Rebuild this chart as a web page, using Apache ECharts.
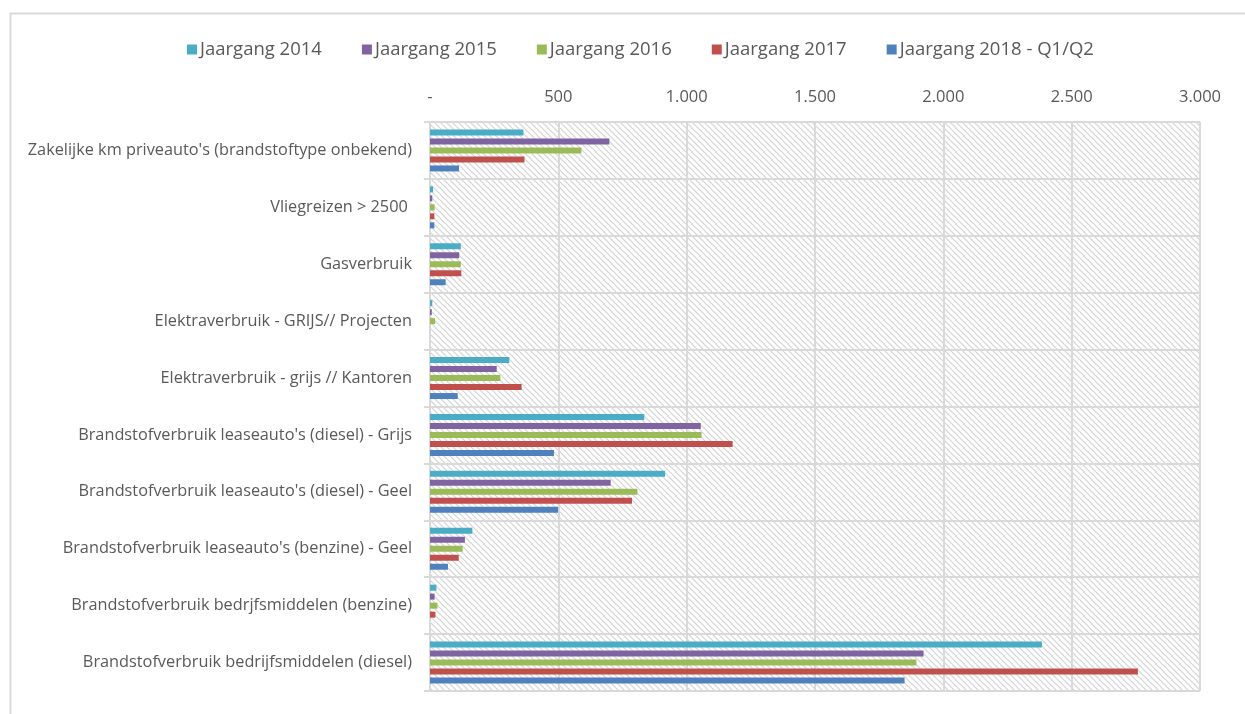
<!DOCTYPE html>
<html><head><meta charset="utf-8">
<script src="https://cdn.jsdelivr.net/npm/echarts@6/dist/echarts.min.js"></script>
<style>html,body{margin:0;padding:0;background:#fff}#c{width:1245px;height:714px}</style>
</head><body><div id="c"></div>
<script>
const categories = [
  "Zakelijke km priveauto's (brandstoftype onbekend)",
  "Vliegreizen > 2500 ",
  "Gasverbruik",
  "Elektraverbruik - GRIJS// Projecten",
  "Elektraverbruik - grijs // Kantoren",
  "Brandstofverbruik leaseauto's (diesel) - Grijs",
  "Brandstofverbruik leaseauto's (diesel) - Geel",
  "Brandstofverbruik leaseauto's (benzine) - Geel",
  "Brandstofverbruik bedrjfsmiddelen (benzine)",
  "Brandstofverbruik bedrijfsmiddelen (diesel)"
];
const seriesNames = ["Jaargang 2014","Jaargang 2015","Jaargang 2016","Jaargang 2017","Jaargang 2018 - Q1/Q2"];
const y2014 = [364, 12, 120, 9, 309, 835, 916, 165, 25, 2384];
const y2015 = [699, 9, 114, 7, 260, 1055, 704, 136, 18, 1923];
const y2016 = [590, 18, 120, 20, 274, 1058, 808, 127, 29, 1895];
const y2017 = [368, 17, 122, 0, 357, 1179, 787, 112, 21, 2758];
const y2018 = [113, 17, 61, 0, 108, 483, 499, 70, 0, 1849];
const xTicks = [0, 500, 1000, 1500, 2000, 2500, 3000];
const colors = ["#4BACC6","#8064A2","#9BBB59","#C0504D","#4F81BD"];
const allValues = [y2014, y2015, y2016, y2017, y2018];

// hatch pattern
const pc = document.createElement('canvas');
pc.width = 6; pc.height = 6;
const px = pc.getContext('2d');
px.fillStyle = '#ffffff'; px.fillRect(0,0,6,6);
px.strokeStyle = '#d3d3d3'; px.lineWidth = 1.2;
px.beginPath();
px.moveTo(-1,-1); px.lineTo(7,7);
px.moveTo(-1,5); px.lineTo(1,7);
px.moveTo(5,-1); px.lineTo(7,1);
px.stroke();

const fmt = v => v === 0 ? '-' : v.toLocaleString('de-DE');

const chart = echarts.init(document.getElementById('c'), null, {renderer:'canvas'});
chart.setOption({
  animation: false,
  color: colors,
  textStyle: {fontFamily: 'Open Sans'},
  graphic: [{
    type: 'rect', left: 8, top: 11, z: -10,
    shape: {width: 1300, height: 800},
    style: {fill: 'none', stroke: '#d9d9d9', lineWidth: 2}
  }],
  legend: {
    top: 35, left: 182,
    itemWidth: 10, itemHeight: 10, itemGap: 40,
    icon: 'rect',
    textStyle: {fontSize: 18.5, color: '#595959', fontFamily: 'Open Sans', padding: [0,0,0,-2]},
    data: seriesNames
  },
  grid: {
    left: 430, right: 45, top: 122, bottom: 23,
    show: true, borderWidth: 0,
    backgroundColor: {image: pc, repeat: 'repeat'}
  },
  xAxis: {
    type: 'value', position: 'top', min: 0, max: 3000, interval: 500,
    axisLine: {show: false}, axisTick: {show: false},
    axisLabel: {formatter: fmt, fontSize: 16.5, color: '#595959', margin: 16},
    splitLine: {show: true, lineStyle: {color: '#d9d9d9', width: 2}}
  },
  yAxis: {
    type: 'category', inverse: true, data: categories,
    axisLine: {show: true, lineStyle: {color: '#d9d9d9', width: 2}},
    axisTick: {show: true, length: 6, lineStyle: {color: '#d9d9d9', width: 2}},
    axisLabel: {fontSize: 16.3, color: '#595959', margin: 18},
    splitLine: {show: true, lineStyle: {color: '#d9d9d9', width: 2}}
  },
  series: seriesNames.map((n, i) => ({
    name: n, type: 'bar', data: allValues[i],
    barWidth: 6, barGap: '50%',
    itemStyle: {color: colors[i]}
  }))
});
</script></body></html>
